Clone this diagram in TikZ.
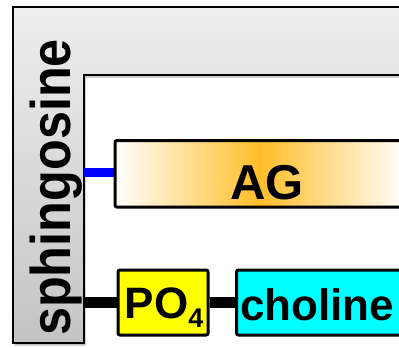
\documentclass[tikz,border=0pt]{standalone}
\usepackage{fontspec}
\setmainfont{Liberation Sans}
\definecolor{ftop}{HTML}{EEEEEE}
\definecolor{fbot}{HTML}{C4C4C4}
\definecolor{agorange}{RGB}{255,190,40}
\definecolor{cyanbox}{RGB}{0,255,255}
\definecolor{yellowbox}{RGB}{255,255,0}
\definecolor{bluelink}{RGB}{0,0,255}
\begin{document}
\begin{tikzpicture}[x=1pt,y=-1pt,
  box/.style={draw=black, line width=3pt, rounded corners=2pt, inner sep=0pt, anchor=north west},
  lbl/.style={inner sep=0pt, font=\bfseries\fontsize{44}{44}\selectfont},
  link/.style={line width=11pt},
]
\useasboundingbox (0,0) rectangle (399,348);
\clip (0,0) rectangle (399,348);
% frame shadow
\fill[black, opacity=0.25, shift={(1.5pt,-2.5pt)}]
  (13,7) -- (420,7) -- (420,75) -- (84,75) -- (84,343) -- (13,343) -- cycle;
% frame
\shade[top color=ftop, bottom color=fbot, draw=black, line width=1.6pt]
  (13,7) -- (420,7) -- (420,75) -- (84,75) -- (84,343) -- (13,343) -- cycle;
\node[rotate=90, anchor=base, inner sep=0pt, font=\bfseries\fontsize{56}{56}\selectfont] (sph) at (70,187.5) {\scalebox{0.9}[1]{sphingosine}};
\coordinate (bl) at (84,172);
\coordinate (kl) at (84,302);
% boxes
\node[box, minimum width=290pt, minimum height=66.5pt, left color=white, right color=white, middle color=agorange] (ag) at (113.5,139) {};
\node[box, minimum width=90pt, minimum height=65pt, fill=yellowbox] (po) at (116.5,268.5) {};
\node[box, minimum width=180pt, minimum height=65pt, fill=cyanbox] (ch) at (235,268.5) {};
% connectors
\draw[link, bluelink, line width=9pt] (bl) -- (ag.west |- bl);
\draw[link] (kl) -- (po.west |- kl);
\draw[link] (po.east |- kl) -- (ch.west |- kl);
% labels
\node[lbl, anchor=base, font=\bfseries\fontsize{49}{49}\selectfont] (agt) at (267,199) {AG};
\node[lbl, anchor=base west] (pot) at (124.5,318) {PO\raisebox{-9pt}{\fontsize{27}{27}\selectfont 4}};
\node[lbl, anchor=base west] (cht) at (240,320) {choline};
\end{tikzpicture}
\end{document}
